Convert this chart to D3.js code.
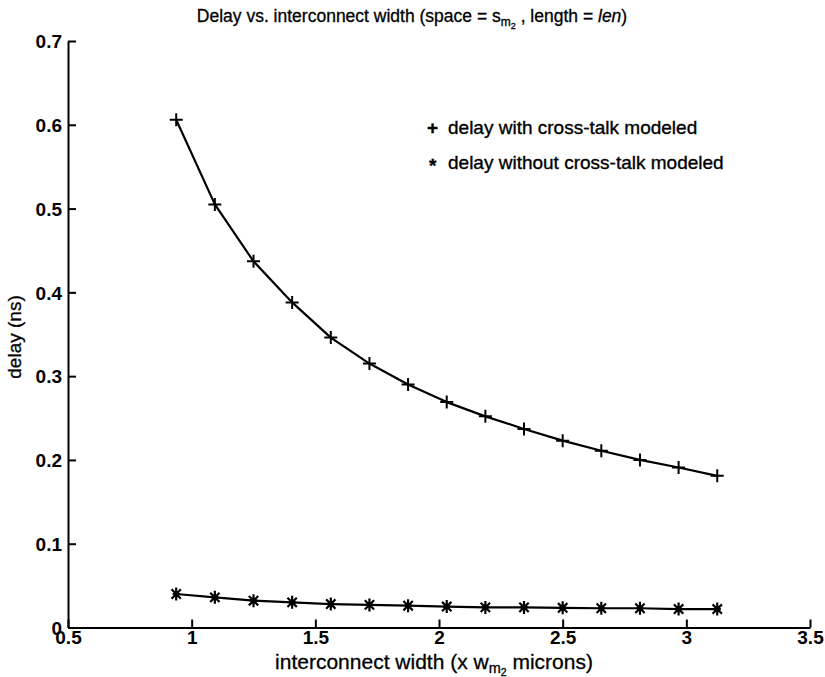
<!DOCTYPE html>
<html>
<head>
<meta charset="utf-8">
<script src="https://cdn.jsdelivr.net/npm/d3@7"></script>
<style>
  html, body { margin: 0; padding: 0; background: #fff; }
  svg { display: block; }
  text { font-family: "Liberation Sans", Arial, Helvetica, sans-serif; fill: #000; }
</style>
</head>
<body>
<svg id="chart" width="825" height="677"></svg>
<script>
// Interconnect widths (multiples of w_m2)
const widths = [0.9375, 1.09375, 1.25, 1.40625, 1.5625, 1.71875, 1.875, 2.03125,
                2.1875, 2.34375, 2.5, 2.65625, 2.8125, 2.96875, 3.125];
// Delay (ns) with cross-talk modeled
const delayWithXtalk = [0.606, 0.505, 0.437, 0.388, 0.346, 0.315, 0.290, 0.269,
                        0.252, 0.237, 0.223, 0.211, 0.200, 0.191, 0.181];
// Delay (ns) without cross-talk modeled
const delayWithoutXtalk = [0.040, 0.036, 0.032, 0.030, 0.028, 0.027, 0.026, 0.025,
                           0.024, 0.024, 0.0235, 0.023, 0.023, 0.022, 0.022];
// Axis ticks
const xTicks = [0.5, 1, 1.5, 2, 2.5, 3, 3.5];
const yTicks = [0, 0.1, 0.2, 0.3, 0.4, 0.5, 0.6, 0.7];
const legendLabels = ["delay with cross-talk modeled", "delay without cross-talk modeled"];

const svg = d3.select("#chart");
const x = d3.scaleLinear().domain([0.5, 3.5]).range([68, 810]);
const y = d3.scaleLinear().domain([0, 0.7]).range([627.5, 41]);

// Axes: MATLAB-style inward ticks, left and bottom only
const xAxis = d3.axisBottom(x).tickValues(xTicks).tickSizeInner(-8).tickSizeOuter(0)
  .tickPadding(5).tickFormat(d3.format("~g"));
const yAxis = d3.axisLeft(y).tickValues(yTicks).tickSizeInner(-8).tickSizeOuter(0)
  .tickPadding(6).tickFormat(d3.format("~g"));

const gx = svg.append("g").attr("transform", `translate(0,${y(0)})`).call(xAxis);
const gy = svg.append("g").attr("transform", `translate(${x(0.5)},0)`).call(yAxis);
[gx, gy].forEach(g => {
  g.select(".domain").attr("stroke", "#000").attr("stroke-width", 2);
  g.selectAll(".tick line").attr("stroke", "#000").attr("stroke-width", 2);
  g.selectAll(".tick text").attr("font-family", "Liberation Sans, Arial, sans-serif")
    .attr("font-weight", "bold").attr("font-size", 19).attr("fill", "#000");
});
gx.selectAll(".tick text").attr("dy", "0.62em");
gy.selectAll(".tick text").attr("dy", "0.36em");

// Series lines
const line = d3.line().x(d => x(d[0])).y(d => y(d[1]));
const s1 = widths.map((w, i) => [w, delayWithXtalk[i]]);
const s2 = widths.map((w, i) => [w, delayWithoutXtalk[i]]);
[s1, s2].forEach(s => {
  svg.append("path").datum(s).attr("d", line)
    .attr("fill", "none").attr("stroke", "#000").attr("stroke-width", 2.2)
    .attr("stroke-linejoin", "round");
});

// Markers: '+' for the cross-talk series, '*' (plus overlaid with x) otherwise
const plusPath = r => `M${-r},0H${r}M0,${-r}V${r}`;
const starPath = r => {
  const k = r * 0.72;
  return `M0,${-r}V${r}M${-k},${-k}L${k},${k}M${-k},${k}L${k},${-k}M${-r * 0.55},0H${r * 0.55}`;
};
svg.append("g").selectAll("path").data(s1).join("path")
  .attr("transform", d => `translate(${x(d[0])},${y(d[1])})`)
  .attr("d", plusPath(6.5)).attr("stroke", "#000").attr("stroke-width", 2).attr("fill", "none");
svg.append("g").selectAll("path").data(s2).join("path")
  .attr("transform", d => `translate(${x(d[0])},${y(d[1])})`)
  .attr("d", starPath(6.5)).attr("stroke", "#000").attr("stroke-width", 2.2).attr("fill", "none");

// Title with nested subscripts
const title = svg.append("text").attr("x", 412).attr("y", 22)
  .attr("text-anchor", "middle").attr("font-size", 17.5).attr("stroke", "#000").attr("stroke-width", 0.3);
title.append("tspan").text("Delay vs. interconnect width (space = s");
title.append("tspan").attr("font-size", 12).attr("dy", 4).text("m");
title.append("tspan").attr("font-size", 9).attr("dy", 3).text("2");
title.append("tspan").attr("dy", -7).text(" , length = ");
title.append("tspan").attr("font-style", "italic").text("len");
title.append("tspan").text(")");

// X axis label
const xl = svg.append("text").attr("x", 434).attr("y", 669)
  .attr("text-anchor", "middle").attr("font-size", 21).attr("stroke", "#000").attr("stroke-width", 0.3);
xl.append("tspan").text("interconnect width (x w");
xl.append("tspan").attr("font-size", 14.5).attr("dy", 4).text("m");
xl.append("tspan").attr("font-size", 10.5).attr("dy", 3).text("2");
xl.append("tspan").attr("dy", -7).text(" microns)");

// Y axis label
svg.append("text").attr("transform", "translate(21,337) rotate(-90)")
  .attr("text-anchor", "middle").attr("font-size", 19).attr("stroke", "#000").attr("stroke-width", 0.3)
  .text("delay (ns)");

// Legend
const leg = svg.append("g").attr("font-size", 19).attr("stroke", "#000").attr("stroke-width", 0.35);
leg.append("text").attr("x", 427).attr("y", 134).attr("font-weight", "bold").text("+");
leg.append("text").attr("x", 429).attr("y", 172).attr("font-weight", "bold").text("*");
leg.selectAll("text.lbl").data(legendLabels).join("text").attr("class", "lbl")
  .attr("x", 448).attr("y", (d, i) => 134 + i * 35).text(d => d);
</script>
</body>
</html>
